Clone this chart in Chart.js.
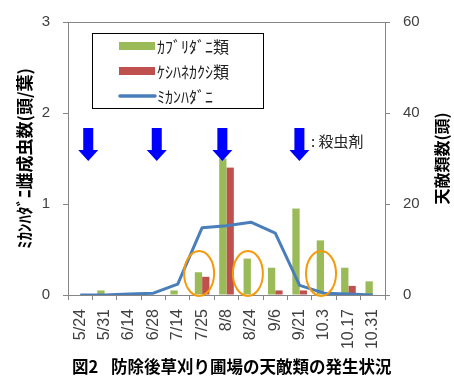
<!DOCTYPE html>
<html>
<head>
<meta charset="utf-8">
<script src="https://cdn.jsdelivr.net/npm/chart.js@4/dist/chart.umd.min.js"></script>
<style>
  html, body { margin: 0; padding: 0; background: #fff; }
  #wrap { width: 454px; height: 376px; }
</style>
</head>
<body>
<div id="wrap"><canvas id="c" width="454" height="376"></canvas></div>
<script>
// Survey dates
const dates = ['5/24', '5/31', '6/14', '6/28', '7/14', '7/25', '8/8', '8/24', '9/6', '9/21', '10.3', '10.17', '10.31'];
// Natural enemies (heads) – right axis
const kaburidani = [0, 1, 0, 0, 1, 5, 30, 8, 6, 19, 12, 6, 3];
const keshihane = [0, 0, 0, 0, 0, 4, 28, 0, 1, 1, 0, 2, 0];
// Citrus red mite adult females per leaf – left axis
const mikanhadani = [0, 0, 0.01, 0.02, 0.12, 0.74, 0.76, 0.80, 0.68, 0.105, 0.02, 0.01, 0];
// Axis tick values
const leftTicks = [0, 1, 2, 3];
const rightTicks = [0, 20, 40, 60];
// Insecticide sprays, as positions on the date axis (category index)
const sprays = [0.33, 3.14, 5.83, 8.99];
// Dates whose counts are ringed
const ringed = ['7/25', '8/24', '10.3'];

const seriesNames = ['ｶﾌﾞﾘﾀﾞﾆ類', 'ｹｼﾊﾈｶｸｼ類', 'ﾐｶﾝﾊﾀﾞﾆ'];
const GREEN = '#9BBB59', RED = '#C0504D', BLUE = '#4A7EBB';
const AXIS = '#868686', TXT = '#404040';
const JP = '"Noto Sans CJK JP", sans-serif';
const NUM = '"Liberation Sans", sans-serif';

const decor = {
  id: 'decor',
  afterDatasetsDraw(chart) {
    const { ctx, chartArea: a, scales } = chart;
    const x = scales.x;
    const step = (a.right - a.left) / dates.length;
    ctx.save();

    // top frame line
    ctx.strokeStyle = AXIS;
    ctx.lineWidth = 1;
    ctx.beginPath();
    ctx.moveTo(a.left, a.top + 0.5);
    ctx.lineTo(a.right, a.top + 0.5);
    ctx.stroke();

    // rings around selected dates
    ctx.strokeStyle = '#F59A0C';
    ctx.lineWidth = 2;
    ringed.forEach(d => {
      const cx = x.getPixelForValue(dates.indexOf(d)) - 3;
      ctx.beginPath();
      ctx.ellipse(cx, a.bottom - 21.5, 15, 22.5, 0, 0, Math.PI * 2);
      ctx.stroke();
    });

    // spray arrows
    ctx.fillStyle = '#0000FF';
    sprays.forEach(p => {
      const cx = a.left + (p + 0.5) * step;
      const top = a.top + 106, headY = a.top + 128, tip = a.top + 139;
      ctx.beginPath();
      ctx.moveTo(cx - 5, top);
      ctx.lineTo(cx + 5, top);
      ctx.lineTo(cx + 5, headY);
      ctx.lineTo(cx + 10, headY);
      ctx.lineTo(cx, tip);
      ctx.lineTo(cx - 10, headY);
      ctx.lineTo(cx - 5, headY);
      ctx.closePath();
      ctx.fill();
    });
    ctx.fillStyle = '#222';
    ctx.font = '15px ' + JP;
    ctx.textBaseline = 'middle';
    ctx.textAlign = 'left';
    ctx.fillText(': 殺虫剤', a.left + 243, a.top + 119);

    // legend
    const lx = 92, ly = 33, lw = 171, lh = 75;
    ctx.fillStyle = '#fff';
    ctx.fillRect(lx, ly, lw, lh);
    ctx.strokeStyle = '#000';
    ctx.lineWidth = 1;
    ctx.strokeRect(lx + 0.5, ly + 0.5, lw, lh);
    const rows = [13, 38, 63];
    [GREEN, RED].forEach((c, i) => {
      ctx.fillStyle = c;
      ctx.fillRect(lx + 27, ly + rows[i] - 4, 36, 8);
    });
    ctx.strokeStyle = BLUE;
    ctx.lineWidth = 3.5;
    ctx.lineCap = 'round';
    ctx.beginPath();
    ctx.moveTo(lx + 28, ly + rows[2]);
    ctx.lineTo(lx + 63, ly + rows[2]);
    ctx.stroke();
    ctx.font = '16px ' + JP;
    ctx.fillStyle = '#222';
    seriesNames.forEach((n, i) => ctx.fillText(n, lx + 65, ly + rows[i] + 1));
    ctx.restore();
  },
  afterDraw(chart) {
    const { ctx, chartArea: a } = chart;
    const midY = (a.top + a.bottom) / 2;
    ctx.save();
    ctx.fillStyle = '#000';
    ctx.textAlign = 'center';
    ctx.textBaseline = 'middle';
    // left axis title
    ctx.font = 'bold 17px ' + JP;
    ctx.save();
    ctx.translate(25, midY);
    ctx.rotate(-Math.PI / 2);
    ctx.fillText('ﾐｶﾝﾊﾀﾞﾆ雌成虫数(頭/葉)', 0, 0);
    ctx.restore();
    // right axis title
    ctx.font = 'bold 16px ' + JP;
    ctx.save();
    ctx.translate(442, midY);
    ctx.rotate(-Math.PI / 2);
    ctx.fillText('天敵類数(頭)', 0, 0);
    ctx.restore();
    // figure caption: number, then the caption text
    ctx.font = 'bold 16.5px ' + JP;
    ctx.textAlign = 'left';
    ctx.fillText('図2', 72, 367);
    ctx.fillText('防除後草刈り圃場の天敵類の発生状況', 111, 367);
    ctx.restore();
  }
};

new Chart(document.getElementById('c'), {
  type: 'bar',
  data: {
    labels: dates,
    datasets: [
      { label: seriesNames[0], data: kaburidani, backgroundColor: GREEN, yAxisID: 'y1', order: 2,
        categoryPercentage: 0.6, barPercentage: 1.0 },
      { label: seriesNames[1], data: keshihane, backgroundColor: RED, yAxisID: 'y1', order: 2,
        categoryPercentage: 0.6, barPercentage: 1.0 },
      { type: 'line', label: seriesNames[2], data: mikanhadani, borderColor: BLUE, borderWidth: 3,
        pointRadius: 0, tension: 0, yAxisID: 'y', order: 0, borderJoinStyle: 'round' }
    ]
  },
  options: {
    responsive: false,
    animation: false,
    events: [],
    layout: { padding: { top: 18, left: 0, right: 0, bottom: 0 } },
    plugins: { legend: { display: false }, tooltip: { enabled: false }, title: { display: false } },
    scales: {
      x: {
        grid: { drawOnChartArea: false, tickLength: 5, color: AXIS, offset: true },
        border: { color: AXIS },
        ticks: { minRotation: 90, maxRotation: 90, autoSkip: false, padding: 9, color: TXT,
                 font: { family: NUM, size: 16 } },
        afterFit(s) { s.height = 376 - 295; }
      },
      y: {
        position: 'left', min: 0, max: 3,
        afterBuildTicks(s) { s.ticks = leftTicks.map(v => ({ value: v })); },
        grid: { drawOnChartArea: false, tickLength: 5, color: AXIS },
        border: { color: AXIS },
        ticks: { padding: 13, color: TXT, font: { family: NUM, size: 15 } },
        afterFit(s) { s.width = 68; }
      },
      y1: {
        position: 'right', min: 0, max: 60,
        afterBuildTicks(s) { s.ticks = rightTicks.map(v => ({ value: v })); },
        grid: { drawOnChartArea: false, tickLength: 5, color: AXIS },
        border: { color: AXIS },
        ticks: { padding: 13, color: TXT, font: { family: NUM, size: 15 } },
        afterFit(s) { s.width = 454 - 385; }
      }
    }
  },
  plugins: [decor]
});
</script>
</body>
</html>
